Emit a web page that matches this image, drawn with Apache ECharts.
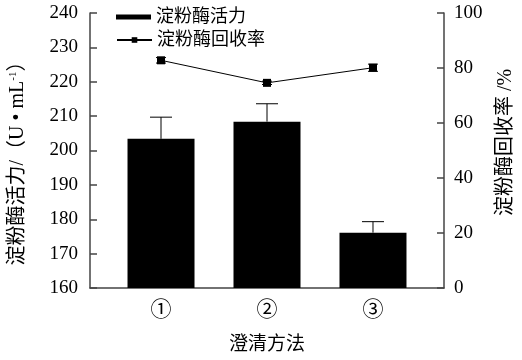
<!DOCTYPE html>
<html><head><meta charset="utf-8">
<script src="https://cdn.jsdelivr.net/npm/echarts@6/dist/echarts.min.js"></script>
<style>html,body{margin:0;padding:0;background:#fff}#c{width:522px;height:360px}</style>
</head><body><div id="c"></div>
<script>
var categories = ['①', '②', '③'];
var activity = [203.4, 208.4, 176.1];
var activityErr = [6.3, 5.2, 3.2];
var recovery = [82.8, 74.6, 80.1];
var recoveryErr = [1.0, 0.6, 1.3];
var leftTicks = [160, 240, 10];
var rightTicks = [0, 100, 20];

var FONT = "'Liberation Serif', 'Noto Sans CJK SC', serif";
var AX = '#444';
var chart = echarts.init(document.getElementById('c'));
var pos = categories.map(function (c, i) { return i + 1; });

function errRender(errs, half, both) {
  return function (params, api) {
    var x = api.value(0), v = api.value(1), e = api.value(2);
    var p0 = api.coord([x, v]);
    var p1 = api.coord([x, v + e]);
    var st = {stroke: '#000', lineWidth: 1};
    var children = [
      {type: 'line', shape: {x1: p0[0], y1: p0[1], x2: p1[0], y2: p1[1]}, style: st},
      {type: 'line', shape: {x1: p1[0] - half, y1: p1[1], x2: p1[0] + half, y2: p1[1]}, style: st}
    ];
    if (both) {
      var p2 = api.coord([x, v - e]);
      children.push({type: 'line', shape: {x1: p0[0], y1: p0[1], x2: p2[0], y2: p2[1]}, style: st});
      children.push({type: 'line', shape: {x1: p2[0] - half, y1: p2[1], x2: p2[0] + half, y2: p2[1]}, style: st});
    }
    return {type: 'group', children: children};
  };
}

chart.setOption({
  animation: false,
  backgroundColor: '#fff',
  textStyle: {fontFamily: FONT, color: '#000'},
  grid: {left: 90, right: 78, top: 13, bottom: 72, containLabel: false, outerBoundsMode: 'none'},
  legend: [
    {data: [{name: '淀粉酶活力', icon: 'rect'}], left: 111, top: 3, itemWidth: 35, itemHeight: 5, itemGap: 6,
     textStyle: {fontFamily: FONT, fontSize: 18, color: '#000'}},
    {data: [{name: '淀粉酶回收率'}], left: 111, top: 26, itemWidth: 35, itemHeight: 7,
     textStyle: {fontFamily: FONT, fontSize: 18, color: '#000'}}
  ],
  xAxis: {
    type: 'value', min: 0.33, max: 3.67,
    name: '澄清方法', nameLocation: 'middle', nameGap: 48,
    nameTextStyle: {fontFamily: FONT, fontSize: 19, color: '#000'},
    axisLine: {show: true, onZero: false, lineStyle: {color: AX, width: 1.5}},
    axisTick: {show: false},
    splitLine: {show: false},
    axisLabel: {customValues: pos, fontSize: 21, color: '#000', margin: 12,
      formatter: function (v) { return categories[Math.round(v) - 1] || ''; }}
  },
  yAxis: [
    {type: 'value', min: leftTicks[0], max: leftTicks[1], interval: leftTicks[2], position: 'left',
     name: '淀粉酶活力/（U • mL{s|-1}）', nameLocation: 'middle', nameGap: 62,
     nameTextStyle: {fontFamily: FONT, fontSize: 20, color: '#000', padding: [0, 16, 0, 0],
       rich: {s: {fontSize: 11, verticalAlign: 'top', padding: [0, 0, 9, 0], fontFamily: FONT}}},
     axisLine: {show: true, lineStyle: {color: AX, width: 1.5}},
     axisTick: {show: true, inside: true, length: 7, lineStyle: {color: AX, width: 1.5}},
     splitLine: {show: false},
     axisLabel: {fontSize: 19, color: '#000', margin: 12}},
    {type: 'value', min: rightTicks[0], max: rightTicks[1], interval: rightTicks[2], position: 'right',
     name: '淀粉酶回收率 /%', nameLocation: 'middle', nameGap: 52,
     nameTextStyle: {fontFamily: FONT, fontSize: 20, color: '#000', padding: [0, 0, 0, 16]},
     axisLine: {show: true, lineStyle: {color: AX, width: 1.5}},
     axisTick: {show: true, inside: true, length: 7, lineStyle: {color: AX, width: 1.5}},
     splitLine: {show: false},
     axisLabel: {fontSize: 19, color: '#000', margin: 10}}
  ],
  series: [
    {name: '淀粉酶活力', type: 'bar', yAxisIndex: 0, barWidth: 67,
     itemStyle: {color: '#000'},
     data: pos.map(function (p, i) { return [p, activity[i]]; })},
    {type: 'custom', yAxisIndex: 0, renderItem: errRender(activityErr, 11, false),
     data: pos.map(function (p, i) { return [p, activity[i], activityErr[i]]; }), z: 3},
    {name: '淀粉酶回收率', type: 'line', yAxisIndex: 1, symbol: 'rect', symbolSize: 8,
     lineStyle: {color: '#000', width: 1}, itemStyle: {color: '#000'},
     data: pos.map(function (p, i) { return [p, recovery[i]]; }), z: 5},
    {type: 'custom', yAxisIndex: 1, renderItem: errRender(recoveryErr, 5, true),
     data: pos.map(function (p, i) { return [p, recovery[i], recoveryErr[i]]; }), z: 4}
  ]
});
</script></body></html>
